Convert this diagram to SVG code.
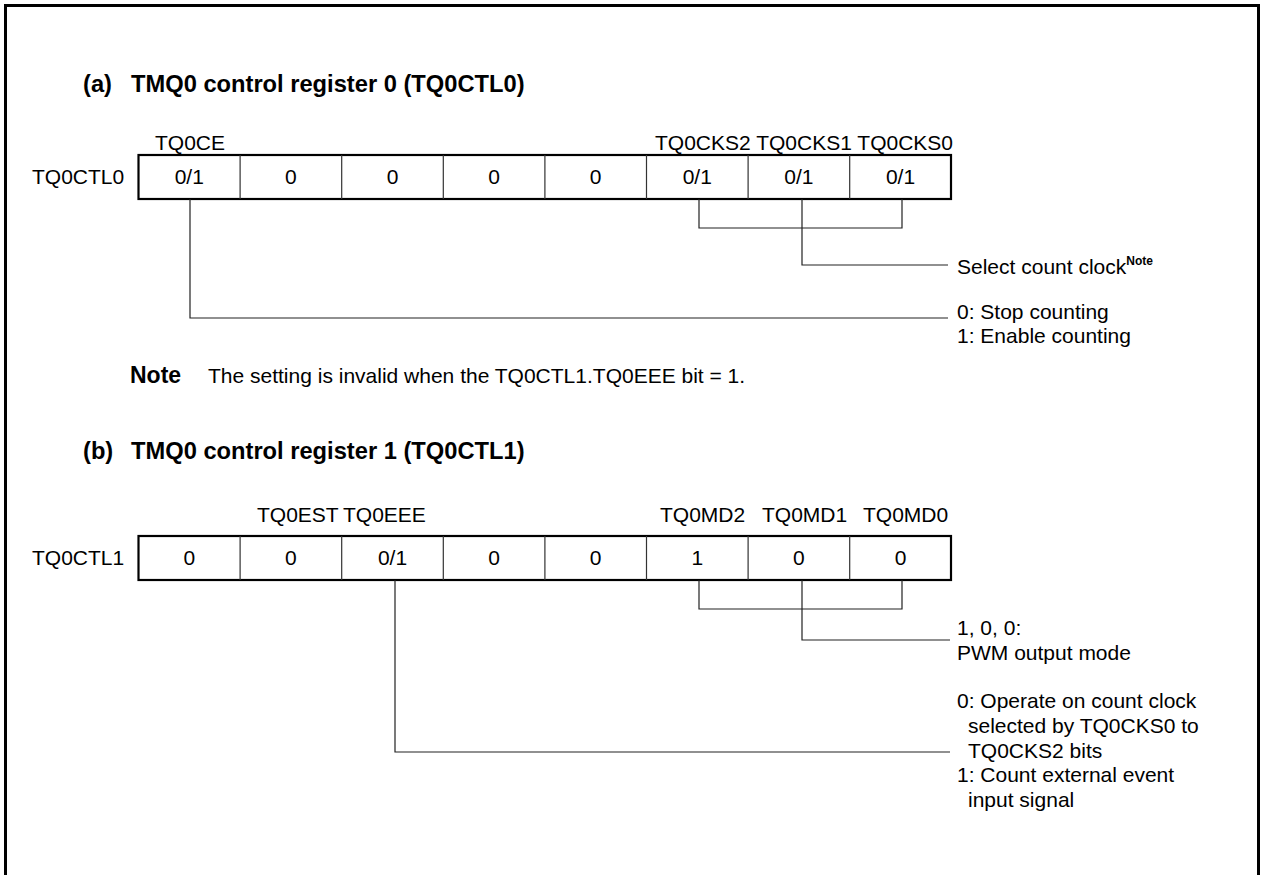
<svg xmlns="http://www.w3.org/2000/svg" width="1265" height="875" viewBox="0 0 1265 875">
<style>
text{font-family:"Liberation Sans",Arial,sans-serif;font-size:21px;fill:#000}
.b{font-weight:bold;font-size:23.7px}
.n{font-weight:bold;font-size:23px}
.c{text-anchor:middle}
.sup{font-size:12px;font-weight:bold}
.box{fill:#fff;stroke:#000;stroke-width:2.2}
.div{stroke:#333;stroke-width:1.2;fill:none}
.con{stroke:#222;stroke-width:1.2;fill:none}
</style>
<rect width="1265" height="875" fill="#fff"/>
<path d="M5.5,880 V5.5 H1258.5 V880" fill="none" stroke="#000" stroke-width="3"/>

<g id="title-a">
<text class="b" x="83" y="92">(a)</text>
<text class="b" x="131" y="92">TMQ0 control register 0 (TQ0CTL0)</text>
</g>

<g id="reg-a">
<text x="155" y="150">TQ0CE</text>
<text x="655" y="150">TQ0CKS2 TQ0CKS1 TQ0CKS0</text>
<text x="32" y="184">TQ0CTL0</text>
<rect class="box" x="138.5" y="155" width="812.5" height="44"/>
<path class="div" d="M240.1,155V199M341.7,155V199M443.3,155V199M544.9,155V199M646.5,155V199M748.1,155V199M849.7,155V199"/>
<text class="c" x="189.3" y="184">0/1</text>
<text class="c" x="290.9" y="184">0</text>
<text class="c" x="392.5" y="184">0</text>
<text class="c" x="494.1" y="184">0</text>
<text class="c" x="595.7" y="184">0</text>
<text class="c" x="697.3" y="184">0/1</text>
<text class="c" x="798.9" y="184">0/1</text>
<text class="c" x="900.5" y="184">0/1</text>
</g>

<g id="desc-a1">
<text x="957" y="274">Select count clock<tspan class="sup" dy="-9">Note</tspan></text>
</g>
<g id="desc-a2">
<text x="957" y="319">0: Stop counting</text>
<text x="957" y="343">1: Enable counting</text>
</g>

<g id="note">
<text class="n" x="130" y="383">Note</text>
<text x="208" y="383">The setting is invalid when the TQ0CTL1.TQ0EEE bit = 1.</text>
</g>

<g id="title-b">
<text class="b" x="83" y="459">(b)</text>
<text class="b" x="131" y="459">TMQ0 control register 1 (TQ0CTL1)</text>
</g>

<g id="reg-b">
<text x="257" y="522">TQ0EST</text>
<text x="343" y="522">TQ0EEE</text>
<text x="660" y="522">TQ0MD2</text>
<text x="762" y="522">TQ0MD1</text>
<text x="863" y="522">TQ0MD0</text>
<text x="32" y="565">TQ0CTL1</text>
<rect class="box" x="138.5" y="536" width="812.5" height="44"/>
<path class="div" d="M240.1,536V580M341.7,536V580M443.3,536V580M544.9,536V580M646.5,536V580M748.1,536V580M849.7,536V580"/>
<text class="c" x="189.3" y="565">0</text>
<text class="c" x="290.9" y="565">0</text>
<text class="c" x="392.5" y="565">0/1</text>
<text class="c" x="494.1" y="565">0</text>
<text class="c" x="595.7" y="565">0</text>
<text class="c" x="697.3" y="565">1</text>
<text class="c" x="798.9" y="565">0</text>
<text class="c" x="900.5" y="565">0</text>
</g>

<g id="desc-b1">
<text x="957" y="635">1, 0, 0:</text>
<text x="957" y="660">PWM output mode</text>
</g>
<g id="desc-b2">
<text x="957" y="708">0: Operate on count clock</text>
<text x="968" y="733">selected by TQ0CKS0 to</text>
<text x="968" y="758">TQ0CKS2 bits</text>
<text x="957" y="782">1: Count external event</text>
<text x="968" y="807">input signal</text>
</g>

<g id="connectors">
<path class="con" d="M190,199V318H948"/>
<path class="con" d="M699,199V228H902V199"/>
<path class="con" d="M802,199V265H948"/>
<path class="con" d="M699,580V609H902V580"/>
<path class="con" d="M802,580V640H950"/>
<path class="con" d="M395,580V752H950"/>
</g>
</svg>
